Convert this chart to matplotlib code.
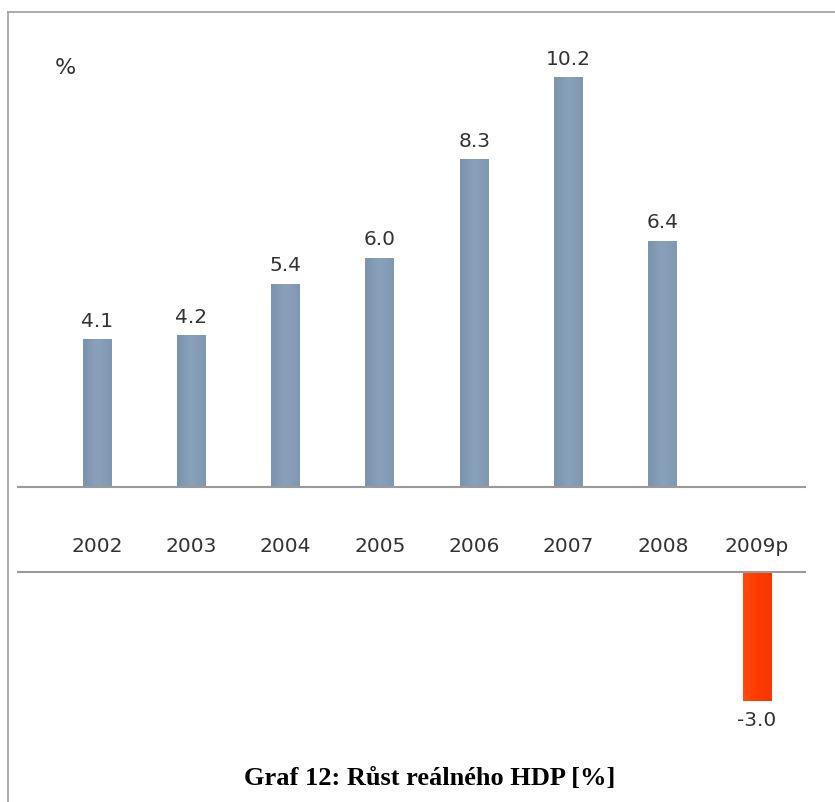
import numpy as np
import matplotlib
matplotlib.use('Agg')
import matplotlib.pyplot as plt
from matplotlib.lines import Line2D
from matplotlib.colors import LinearSegmentedColormap

# data
years = ['2002', '2003', '2004', '2005', '2006', '2007', '2008', '2009p']
growth = [4.1, 4.2, 5.4, 6.0, 8.3, 10.2, 6.4, -3.0]
labels = ['4.1', '4.2', '5.4', '6.0', '8.3', '10.2', '6.4', '-3.0']

W, H = 835, 802
fig = plt.figure(figsize=(W / 100, H / 100), dpi=100)
fig.patch.set_facecolor('white')

txt = '#333333'
blue_cm = LinearSegmentedColormap.from_list('b', ['#7a93ae', '#8aa1ba', '#7f98b2'])
red_cm = LinearSegmentedColormap.from_list('r', ['#ff4a10', '#ff3a00', '#f43800'])
line_c = '#9a9a9a'
fs = 14.5

# scale: ~42.95 px per percentage point, top axes baseline sits above zero
ppu = 42.95
x_lo, x_hi = -0.838, 7.508
bw = 0.307

# positive part
top_y0, top_y1 = 487, 30
ax = fig.add_axes([18 / W, 1 - top_y0 / H, 787 / W, (top_y0 - top_y1) / H])
lo = (516 - 487) / ppu
ax.set_ylim(lo, lo + (top_y0 - top_y1) / ppu)
ax.set_xlim(x_lo, x_hi)

# negative part, under the label band
bot_y0, bot_y1 = 572, 745
ax2 = fig.add_axes([18 / W, 1 - bot_y1 / H, 787 / W, (bot_y1 - bot_y0) / H])
ax2.set_ylim(-(bot_y1 - bot_y0) / ppu, 0)
ax2.set_xlim(x_lo, x_hi)

grad = np.linspace(0, 1, 64).reshape(1, -1)
x = np.arange(len(years))
for i, v in enumerate(growth):
    if v > 0:
        ax.imshow(grad, cmap=blue_cm, aspect='auto', zorder=2,
                  extent=(i - bw / 2, i + bw / 2, 0, v))
    else:
        ax2.imshow(grad, cmap=red_cm, aspect='auto', zorder=2,
                   extent=(i - bw / 2, i + bw / 2, v, 0))
ax.set_xlim(x_lo, x_hi)
ax.set_ylim(lo, lo + (top_y0 - top_y1) / ppu)
ax2.set_xlim(x_lo, x_hi)
ax2.set_ylim(-(bot_y1 - bot_y0) / ppu, 0)

for i, v in enumerate(growth):
    if v > 0:
        ax.annotate(labels[i], (i, v), xytext=(0, 9), textcoords='offset pixels',
                    ha='center', va='bottom', fontsize=fs, color=txt)
    else:
        ax2.annotate(labels[i], (i, v), xytext=(0, -10), textcoords='offset pixels',
                     ha='center', va='top', fontsize=fs, color=txt)

for a in (ax, ax2):
    for s in a.spines.values():
        s.set_visible(False)
    a.set_yticks([])
    a.patch.set_alpha(0)

ax.spines['bottom'].set_visible(True)
ax.spines['bottom'].set_color(line_c)
ax.spines['bottom'].set_linewidth(1.5)
ax2.spines['top'].set_visible(True)
ax2.spines['top'].set_color(line_c)
ax2.spines['top'].set_linewidth(1.5)

ax.set_xticks(x)
ax.set_xticklabels(years, fontsize=fs, color=txt)
ax.tick_params(axis='x', length=0, pad=36)
ax2.set_xticks([])

fig.text(65 / W, 1 - 68 / H, '%', fontsize=16, color=txt, ha='center', va='center')

fig.text(430 / W, 1 - 778 / H, 'Graf 12: Růst reálného HDP [%]',
         fontsize=19, fontweight='bold', family='Liberation Serif',
         ha='center', va='center', color='black')

# outer frame (top and left edge)
fig.add_artist(Line2D([8 / W, 1], [1 - 12 / H, 1 - 12 / H], color='#a0a0a0', lw=1.2))
fig.add_artist(Line2D([8 / W, 8 / W], [1 - 12 / H, 0], color='#a0a0a0', lw=1.2))

fig.savefig('out.png', dpi=100, facecolor='white')
